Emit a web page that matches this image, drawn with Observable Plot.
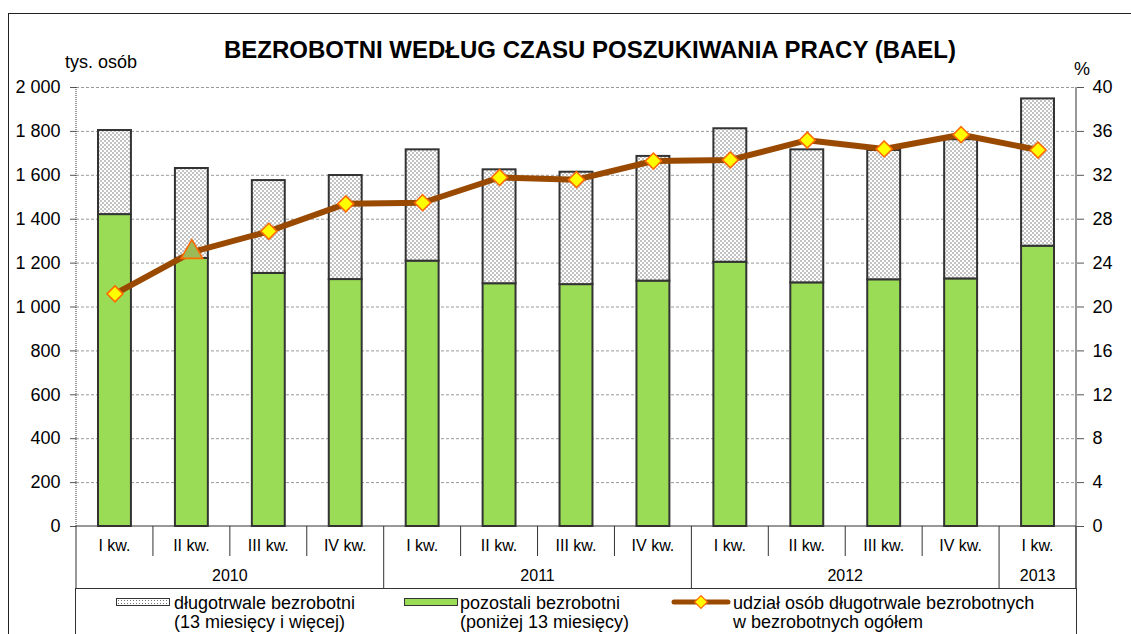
<!DOCTYPE html>
<html>
<head>
<meta charset="utf-8">
<script src="https://cdn.jsdelivr.net/npm/d3@7"></script>
<script src="https://cdn.jsdelivr.net/npm/@observablehq/plot@0.6"></script>
<style>
  body { margin: 0; background: #fff; font-family: "Liberation Sans", Arial, sans-serif; color: #000; }
  #wrap { position: relative; width: 1131px; height: 634px; overflow: hidden; }
  #frame { position: absolute; left: 8px; top: 13px; width: 1300px; height: 700px; border-left: 1.5px solid #222; border-top: 1.5px solid #222; }
  #title { position: absolute; left: 0; width: 1180px; top: 38px; text-align: center; font-weight: bold; font-size: 24px; line-height: 24px; white-space: nowrap; }
  .unit { position: absolute; font-size: 18px; line-height: 18px; white-space: nowrap; }
  #chart { position: absolute; left: 0; top: 0; }
  #legend { position: absolute; left: 75px; top: 588px; width: 1002px; height: 80px; border: 1px solid #333; box-sizing: border-box; }
  .lt { position: absolute; font-size: 18px; line-height: 19px; white-space: nowrap; }
  .sw { position: absolute; box-sizing: border-box; }
</style>
</head>
<body>
<div id="wrap">
  <div id="frame"></div>
  <div id="title">BEZROBOTNI WEDŁUG CZASU POSZUKIWANIA PRACY (BAEL)</div>
  <div class="unit" style="left:65px;top:53px;">tys. osób</div>
  <div class="unit" style="left:1074px;top:60px;">%</div>
  <div id="chart"></div>
  <div id="legend"></div>
</div>
<script>
// ---- data ----
const quarters = ["I kw.","II kw.","III kw.","IV kw.","I kw.","II kw.","III kw.","IV kw.","I kw.","II kw.","III kw.","IV kw.","I kw."];
const years    = ["2010","2010","2010","2010","2011","2011","2011","2011","2012","2012","2012","2012","2013"];
// pozostali bezrobotni (poniżej 13 miesięcy), tys. osób
const shortTerm = [1421, 1221, 1153, 1125, 1209, 1106, 1102, 1118, 1204, 1110, 1124, 1128, 1277];
// długotrwale bezrobotni (13 miesięcy i więcej), tys. osób
const longTerm  = [383, 410, 423, 474, 507, 519, 512, 568, 608, 606, 589, 634, 671];
// udział osób długotrwale bezrobotnych w bezrobotnych ogółem, %
const share     = [21.2, 25.0, 26.9, 29.4, 29.5, 31.8, 31.6, 33.3, 33.4, 35.2, 34.4, 35.7, 34.3];
const leftTicks  = [0, 200, 400, 600, 800, 1000, 1200, 1400, 1600, 1800, 2000];
const rightTicks = [0, 4, 8, 12, 16, 20, 24, 28, 32, 36, 40];
const leftMax = 2000, rightMax = 40;
const ratio = leftMax / rightMax;

const rows = quarters.map((q, i) => ({i, q, year: years[i], s: shortTerm[i], l: longTerm[i], p: share[i]}));

const fmt = d3.formatLocale({thousands: " ", grouping: [3], decimal: ","}).format(",");

function defsMark() {
  const g = d3.create("svg:g");
  const pat = g.append("defs").append("pattern")
    .attr("id", "dots").attr("width", 4).attr("height", 4).attr("patternUnits", "userSpaceOnUse");
  pat.append("rect").attr("width", 4).attr("height", 4).attr("fill", "#fff");
  pat.append("circle").attr("cx", 1).attr("cy", 1).attr("r", 0.8).attr("fill", "#777");
  pat.append("circle").attr("cx", 3).attr("cy", 3).attr("r", 0.8).attr("fill", "#777");
  return g.node();
}

function tableMark(index, scales, values, dim) {
  const x = scales.x;
  const bw = x.bandwidth ? x.bandwidth() : (x(1) - x(0));
  const y0 = dim.height - dim.marginBottom;
  const top = dim.marginTop;
  const xl = dim.marginLeft, xr = dim.width - dim.marginRight;
  const bottom = dim.height;
  const g = d3.create("svg:g").attr("font-family", "Liberation Sans, Arial, sans-serif");
  g.append("line").attr("x1", xl).attr("x2", xl).attr("y1", top).attr("y2", y0)
    .attr("stroke", "#333").attr("stroke-dasharray", "1,1");
  g.append("line").attr("x1", xr).attr("x2", xr).attr("y1", top).attr("y2", bottom)
    .attr("stroke", "#555").attr("stroke-width", 1.2);
  g.append("line").attr("x1", xl).attr("x2", xr).attr("y1", y0).attr("y2", y0)
    .attr("stroke", "#333").attr("stroke-width", 1.2);
  rows.forEach((d, k) => {
    const xs = x(d.i);
    const yearStart = k === 0 || rows[k - 1].year !== d.year;
    g.append("line").attr("x1", xs).attr("x2", xs).attr("y1", y0)
      .attr("y2", yearStart ? bottom : y0 + 30).attr("stroke", "#333");
    g.append("text").attr("x", xs + bw / 2).attr("y", y0 + 25).attr("text-anchor", "middle")
      .style("font-size", "16px").attr("fill", "#000").text(d.q);
  });
  g.append("line").attr("x1", xr).attr("x2", xr).attr("y1", y0).attr("y2", bottom).attr("stroke", "#333");
  for (const [yr, list] of d3.group(rows, d => d.year)) {
    const a = x(list[0].i), b = x(list[list.length - 1].i) + bw;
    g.append("text").attr("x", (a + b) / 2).attr("y", y0 + 55).attr("text-anchor", "middle")
      .style("font-size", "16px").attr("fill", "#000").text(yr);
  }
  return g.node();
}

const chart = Plot.plot({
  width: 1131,
  height: 588,
  marginTop: 87,
  marginBottom: 62,
  marginLeft: 76,
  marginRight: 55,
  style: {fontFamily: "Liberation Sans, Arial, sans-serif", fontSize: "18px", background: "transparent", overflow: "visible", color: "#000"},
  x: {type: "band", domain: rows.map(d => d.i), padding: 0, round: false, axis: null},
  y: {domain: [0, leftMax], axis: null},
  marks: [
    defsMark,
    Plot.gridY(leftTicks.filter(t => t > 0), {stroke: "#999", strokeOpacity: 1, strokeDasharray: "3,2"}),
    Plot.axisY(leftTicks, {anchor: "left", tickFormat: fmt, tickSize: 6, tickPadding: 10, label: null, fontSize: 18, stroke: "#555"}),
    Plot.axisY(rightTicks.map(t => t * ratio), {anchor: "right", tickFormat: d => d / ratio, tickSize: 7, tickPadding: 9, label: null, fontSize: 18, stroke: "#555"}),
    Plot.barY(rows, {x: "i", y1: 0, y2: "s", fill: "#9bdc56", stroke: "#333", strokeWidth: 2, insetLeft: 22, insetRight: 22}),
    Plot.barY(rows, {x: "i", y1: "s", y2: d => d.s + d.l, fill: "url(#dots)", stroke: "#333", strokeWidth: 2, insetLeft: 22, insetRight: 22}),
    tableMark,
    Plot.line(rows, {x: "i", y: d => d.p * ratio, stroke: "#9a4a00", strokeWidth: 6}),
    Plot.dot(rows.filter(d => d.i !== 1), {x: "i", y: d => d.p * ratio, symbol: "diamond2", r: 7.2, fill: "#ffff00", stroke: "#ff6a00", strokeWidth: 1.6}),
    Plot.dot(rows.filter(d => d.i === 1), {x: "i", y: d => d.p * ratio, symbol: "triangle", r: 8, fill: "#9bbb59", stroke: "#ff6a00", strokeWidth: 1.6})
  ]
});
document.getElementById("chart").appendChild(chart);

// ---- legend ----
const legend = document.getElementById("legend");
const ox = 75, oy = 588;
function add(html) { legend.insertAdjacentHTML("beforeend", html); }
add(`<div class="sw" style="left:${115-ox}px;top:${597-oy}px;width:54px;height:8px;border:1.5px solid #333;background:#fff radial-gradient(#777 0.7px, transparent 1px) 0 0/3px 3px;"></div>`);
add(`<div class="lt" style="left:${173-ox}px;top:${593-oy}px;">długotrwale bezrobotni<br>(13 miesięcy i więcej)</div>`);
add(`<div class="sw" style="left:${403-ox}px;top:${597-oy}px;width:54px;height:8px;border:1.5px solid #333;background:#9bdc56;"></div>`);
add(`<div class="lt" style="left:${459-ox}px;top:${593-oy}px;">pozostali bezrobotni<br>(poniżej 13 miesięcy)</div>`);
add(`<svg style="position:absolute;left:${670-ox}px;top:${591-oy}px;" width="60" height="20">
  <line x1="3" x2="57" y1="10" y2="10" stroke="#9a4a00" stroke-width="5" stroke-linecap="round"/>
  <rect x="25.5" y="5.5" width="9" height="9" transform="rotate(45 30 10)" fill="#ffff00" stroke="#ff6a00" stroke-width="1.2"/>
</svg>`);
add(`<div class="lt" style="left:${732-ox}px;top:${593-oy}px;">udział osób długotrwale bezrobotnych<br>w bezrobotnych ogółem</div>`);
</script>
</body>
</html>
